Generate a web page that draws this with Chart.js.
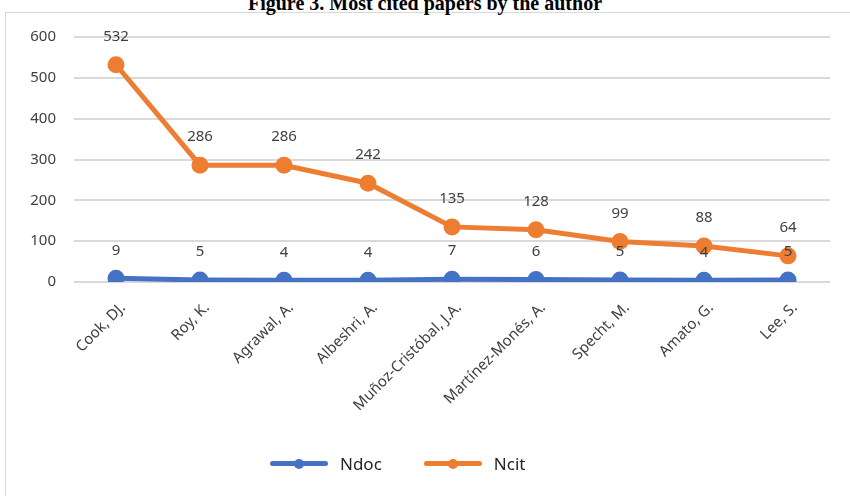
<!DOCTYPE html>
<html>
<head>
<meta charset="utf-8">
<script src="https://cdn.jsdelivr.net/npm/chart.js@4.4.1/dist/chart.umd.min.js"></script>
<style>
  body { margin: 0; background: #fff; }
  #wrap { position: relative; width: 850px; height: 496px; overflow: hidden; }
  #frame { position: absolute; left: 5px; top: 12px; width: 900px; height: 600px;
    border-left: 1px solid #d9d9d9; border-top: 1px solid #d9d9d9; }
  #title { position: absolute; left: 0; width: 850px; top: -8px; text-align: center;
    font: bold 20px "Liberation Serif", serif; line-height: 22px; color: #000; }
  canvas { position: absolute; left: 0; top: 0; }
  #legend { position: absolute; left: 270px; top: 452px; display: flex; align-items: center;
    font: 17px "Noto Sans", sans-serif; color: #262626; }
  .item { display: flex; align-items: center; margin-right: 42px; }
  .sym { position: relative; width: 58px; height: 22px; margin-right: 12px; }
  .sym .ln { position: absolute; left: 0; top: 8.5px; width: 58px; height: 5px; border-radius: 3px; }
  .sym .dot { position: absolute; left: 24px; top: 6px; width: 10px; height: 10px; border-radius: 50%; }
</style>
</head>
<body>
<div id="wrap">
  <div id="frame"></div>
  <div id="title">Figure 3. Most cited papers by the author</div>
  <canvas id="chart" width="850" height="496"></canvas>
  <div id="legend"></div>
</div>
<script>
const authors = ['Cook, DJ.', 'Roy, K.', 'Agrawal, A.', 'Albeshri, A.', 'Muñoz-Cristóbal, J.A.',
  'Martínez-Monés, A.', 'Specht, M.', 'Amato, G.', 'Lee, S.']
const ndoc = [9, 5, 4, 4, 7, 6, 5, 4, 5]
const ncit = [532, 286, 286, 242, 135, 128, 99, 88, 64]
const yTicks = [0, 100, 200, 300, 400, 500, 600]

const blue = '#4472c4'
const orange = '#ed7d31'

// value labels above every point
const valueLabels = {
  id: 'valueLabels',
  afterDatasetsDraw(chart) {
    const ctx = chart.ctx
    ctx.save()
    ctx.font = '15px "Noto Sans"'
    ctx.fillStyle = '#404040'
    ctx.textAlign = 'center'
    ctx.textBaseline = 'middle'
    chart.data.datasets.forEach((ds, i) => {
      chart.getDatasetMeta(i).data.forEach((pt, j) => {
        ctx.fillText(ds.data[j], pt.x, pt.y - 28)
      })
    })
    ctx.restore()
  }
}

const ctxChart = document.getElementById('chart')
const chart = new Chart(ctxChart, {
  type: 'line',
  data: {
    labels: authors,
    datasets: [
      {
        label: 'Ndoc',
        data: ndoc,
        borderColor: blue,
        backgroundColor: blue,
        borderWidth: 5,
        pointRadius: 6,
        pointHoverRadius: 6,
        tension: 0,
      },
      {
        label: 'Ncit',
        data: ncit,
        borderColor: orange,
        backgroundColor: orange,
        borderWidth: 5,
        pointRadius: 6,
        pointHoverRadius: 6,
        tension: 0,
      },
    ],
  },
  options: {
    responsive: false,
    animation: false,
    layout: { padding: { top: 37, right: 20, left: 0, bottom: 0 } },
    plugins: {
      legend: { display: false },
      tooltip: { enabled: false },
    },
    scales: {
      x: {
        offset: true,
        grid: { display: false },
        border: { display: false },
        ticks: {
          minRotation: 45,
          maxRotation: 45,
          color: '#404040',
          font: { family: 'Noto Sans', size: 15 },
          padding: 9,
          labelOffset: 7,
        },
        afterFit(scale) { scale.height = 214 },
      },
      y: {
        min: 0,
        max: 600,
        afterBuildTicks(scale) { scale.ticks = yTicks.map(v => ({ value: v })) },
        grid: { color: '#d9d9d9', lineWidth: 2, drawTicks: false },
        border: { display: false },
        ticks: {
          color: '#404040',
          font: { family: 'Noto Sans', size: 15 },
          padding: 18,
        },
        afterFit(scale) { scale.width = 74 },
      },
    },
  },
  plugins: [valueLabels],
})

// legend: line with a dot, like the original
const legend = document.getElementById('legend')
chart.data.datasets.forEach(ds => {
  const item = document.createElement('div')
  item.className = 'item'
  item.innerHTML = '<div class="sym"><div class="ln" style="background:' + ds.borderColor +
    '"></div><div class="dot" style="background:' + ds.borderColor + '"></div></div><span>' +
    ds.label + '</span>'
  legend.appendChild(item)
})
</script>
</body>
</html>
